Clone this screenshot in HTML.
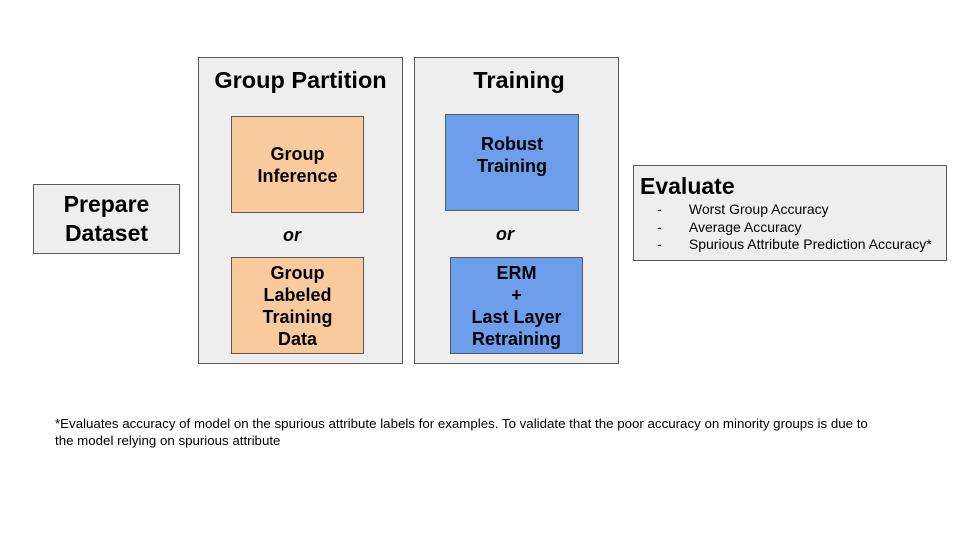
<!DOCTYPE html>
<html><head><style>
body{margin:0;width:960px;height:540px;background:#fff;position:relative;overflow:hidden;font-family:"Liberation Sans",Arial,sans-serif;color:#000}
.b{position:absolute;box-sizing:border-box;border:1px solid #595959}
.g{background:#eeeeee}
.o{background:#f9cb9c}
.u{background:#6d9eeb}
.t{position:absolute;text-align:center;font-weight:bold}
.c{display:flex;align-items:center;justify-content:center;text-align:center;font-weight:bold;font-size:18px;line-height:22px}
</style></head><body>
<div class="b g c" style="left:33px;top:184px;width:147px;height:70px;font-size:23px;line-height:29px">Prepare<br>Dataset</div>
<div class="b g" style="left:198px;top:57px;width:205px;height:307px"></div>
<div class="t" style="left:198px;top:67px;width:205px;font-size:23.5px">Group Partition</div>
<div class="b o c" style="left:231px;top:116px;width:133px;height:97px">Group<br>Inference</div>
<div class="t" style="left:231px;top:225px;width:122px;font-size:18px;font-style:italic">or</div>
<div class="b o c" style="left:231px;top:257px;width:133px;height:97px">Group<br>Labeled<br>Training<br>Data</div>
<div class="b g" style="left:414px;top:57px;width:205px;height:307px"></div>
<div class="t" style="left:414px;top:67px;width:210px;font-size:23.5px">Training</div>
<div class="b u c" style="left:445px;top:114px;width:134px;height:97px;padding-bottom:15px">Robust<br>Training</div>
<div class="t" style="left:445px;top:224px;width:120px;font-size:18px;font-style:italic">or</div>
<div class="b u c" style="left:450px;top:257px;width:133px;height:97px">ERM<br>+<br>Last Layer<br>Retraining</div>
<div class="b g" style="left:633px;top:165px;width:314px;height:96px"></div>
<div class="t" style="left:640px;top:173px;font-size:23px;text-align:left">Evaluate</div>
<div style="position:absolute;left:657px;top:201px;font-size:14px;line-height:17.5px">
<div>-&nbsp;&nbsp;&nbsp;&nbsp;&nbsp;&nbsp;&nbsp;Worst Group Accuracy</div>
<div>-&nbsp;&nbsp;&nbsp;&nbsp;&nbsp;&nbsp;&nbsp;Average Accuracy</div>
<div>-&nbsp;&nbsp;&nbsp;&nbsp;&nbsp;&nbsp;&nbsp;Spurious Attribute Prediction Accuracy*</div>
</div>
<div style="position:absolute;left:55px;top:415px;width:850px;font-size:13.3px;line-height:17px;white-space:nowrap">*Evaluates accuracy of model on the spurious attribute labels for examples. To validate that the poor accuracy on minority groups is due to<br>the model relying on spurious attribute</div>
</body></html>
